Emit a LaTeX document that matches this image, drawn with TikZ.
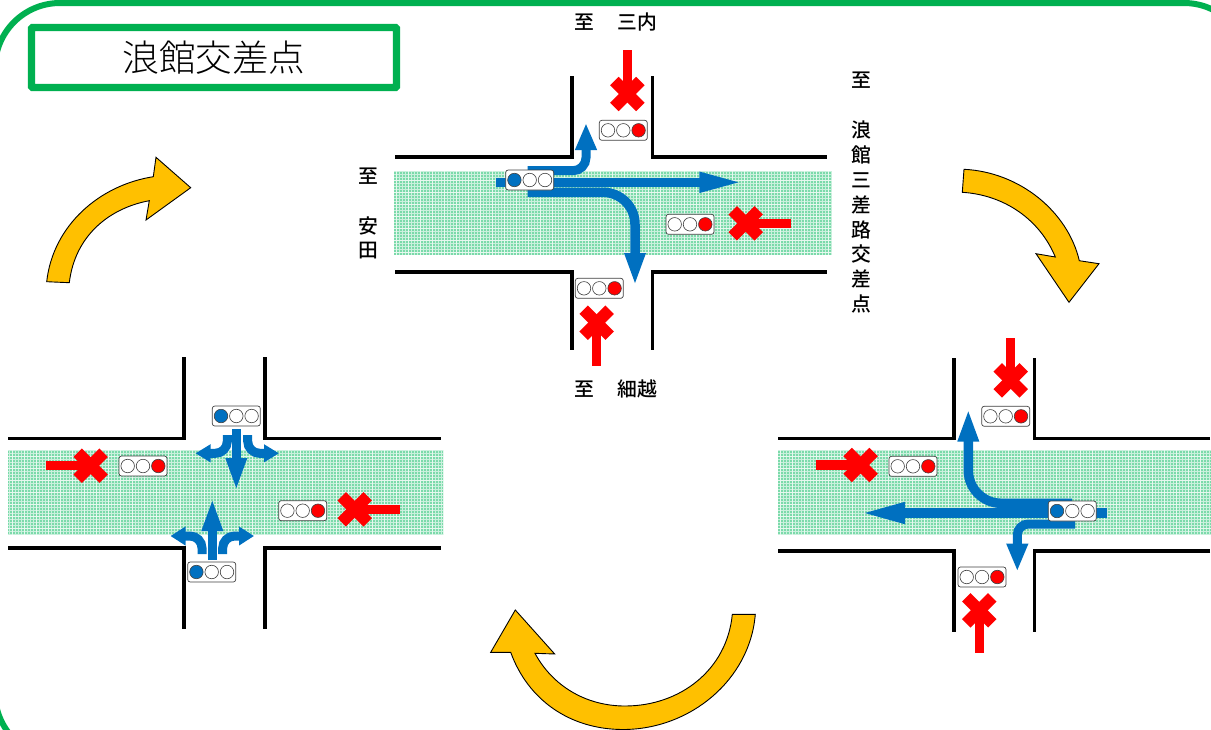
\documentclass[tikz,border=0pt]{standalone}
\usepackage{fontspec}
\setmainfont[UprightFont=* Medium]{Noto Sans CJK JP}
\newfontfamily\titlefont[UprightFont=* Light]{Noto Sans CJK JP}
\usetikzlibrary{arrows.meta,positioning}
\definecolor{framegreen}{HTML}{00B050}
\definecolor{bandgreen}{HTML}{7BDAAA}
\definecolor{signalblue}{HTML}{0070C0}
\definecolor{turnyellow}{HTML}{FFC000}
\tikzset{
    roadline/.style={
           draw=black,
           line width=3.6pt,
           miter limit=4,
           },
    signal/.style={
           rectangle,
           rounded corners=2.5pt,
           draw=black!75, line width=.7pt,
           fill=white,
           minimum width=48pt,
           minimum height=20pt,
           inner sep=0pt,
           },
    lamp/.style={
           circle,
           draw=black!75, line width=.6pt,
           minimum size=13.5pt,
           inner sep=0pt,
           node distance=1.2pt,
           },
    go/.style={
           draw=signalblue,
           line width=9.5pt,
           },
    stopline/.style={
           draw=red,
           line width=9.5pt,
           },
    stopcross/.style={
           draw=red,
           line width=12pt,
           },
    turnarrow/.style={
           draw=black, line width=.9pt,
           fill=turnyellow,
           line join=miter,
           },
    lbl/.style={
           font=\fontsize{19.8}{20}\selectfont,
           inner sep=0pt,
           },
}
% one road crossing: left, arm x, arm x, right, top y, bottom y, arm up to, arm down to
\newcommand{\crossroad}[8]{
    \draw[roadline] (#1,#5) -- (#2,#5) -- (#2,#7);
    \draw[roadline] (#4,#5) -- (#3,#5) -- (#3,#7);
    \draw[roadline] (#1,#6) -- (#2,#6) -- (#2,#8);
    \draw[roadline] (#4,#6) -- (#3,#6) -- (#3,#8);
}
% green hatched band along the road
\newcommand{\roadband}[4]{
    \fill[bandgreen] (#1,#2) rectangle (#3,#4);
    \begin{scope}
    \clip (#1,#2) rectangle (#3,#4);
    \draw[white, opacity=.6, line width=1pt, step=3pt] (#1,#2) grid (#3,#4);
    \draw[white, opacity=.55, line width=1pt, step=12pt] (#1,#2) grid (#3,#4);
    \end{scope}
}
% signal box with its three lamps
\newcommand{\signalbox}[6]{
    \node[signal] (#1) at (#2,#3) {};
    \node[lamp, fill=#5] (#1b) at (#1.center) {};
    \node[lamp, fill=#4, left=of #1b] (#1a) {};
    \node[lamp, fill=#6, right=of #1b] (#1c) {};
}
% red cross with the stopped lane running into it
\newcommand{\stopmark}[4]{
    \draw[stopline] (#3,#4) -- (#1,#2);
    \draw[stopcross] (#1,#2) ++(-13,-13) -- ++(26,26);
    \draw[stopcross] (#1,#2) ++(-13,13) -- ++(26,-26);
}
\begin{document}
\begin{tikzpicture}[x=1pt,y=-1pt]
    \useasboundingbox (0,0) rectangle (1211,729);

    % outer frame and title
    \begin{scope}
    \clip (0,0) rectangle (1211,729);
    \draw[framegreen, line width=6pt, rounded corners=65pt] (-5,3) rectangle (1249,758);
    \end{scope}
    \node[draw=framegreen, line width=7.3pt, rounded corners=1pt, fill=white,
    minimum width=365pt, minimum height=60pt, inner sep=0pt,
    font=\titlefont\fontsize{36.6}{37}\selectfont] (title) at (214,57.5) {浪館交差点};

    % roads
    \roadband{394}{171}{832}{254.5}
    \crossroad{395}{571.7}{652.3}{826.7}{156.7}{271.7}{76}{350}
    \roadband{8}{450}{444}{535}
    \crossroad{8}{183.7}{264.7}{440.7}{438.3}{547.7}{357}{629}
    \roadband{778}{450}{1211}{534.7}
    \crossroad{778}{953.7}{1034.3}{1210}{438.3}{551}{358}{631.7}

    % top crossing: west lane moves
    \draw[go, -{Triangle[length=46pt,width=18pt]}] (496,182.3) -- (745.3,182.3);
    \draw[go, line width=9pt, rounded corners=13pt, -{Triangle[length=27pt,width=20pt]}]
        (527.7,170.7) -- (586,170.7) -- (586,123);
    \draw[go, rounded corners=32pt, -{Triangle[length=33pt,width=19pt]}]
        (527.7,192.3) -- (635,192.3) -- (635,286);
    \stopmark{627.3}{94}{627.3}{50}
    \stopmark{745.7}{223.3}{791}{223.3}
    \stopmark{596.7}{322.7}{596.7}{365.7}
    \signalbox{na}{623.3}{130.3}{white}{white}{red}
    \signalbox{wa}{529.7}{180}{signalblue}{white}{white}
    \signalbox{ea}{690}{224.3}{white}{white}{red}
    \signalbox{sa}{599.3}{288.3}{white}{white}{red}

    % left crossing: north and south lanes move
    \draw[go, -{Triangle[length=33pt,width=19pt]}] (236.3,429.3) -- (236.3,491);
    \draw[go, line width=9pt, rounded corners=12pt, -{Triangle[length=15pt,width=17pt]}]
        (227.3,435) -- (227.3,453.3) -- (195.5,453.3);
    \draw[go, line width=9pt, rounded corners=12pt, -{Triangle[length=15pt,width=17pt]}]
        (247.7,435) -- (247.7,453.3) -- (279,453.3);
    \draw[go, -{Triangle[length=33pt,width=19pt]}] (212.3,560) -- (212.3,498);
    \draw[go, line width=9pt, rounded corners=12pt, -{Triangle[length=15pt,width=18pt]}]
        (202,554) -- (202,536) -- (170.5,536);
    \draw[go, line width=9pt, rounded corners=12pt, -{Triangle[length=15pt,width=18pt]}]
        (222.7,554) -- (222.7,536) -- (254,536);
    \stopmark{90.7}{465.7}{45.7}{465.7}
    \stopmark{354.7}{509.3}{400}{509.3}
    \signalbox{nb}{236.3}{416}{signalblue}{white}{white}
    \signalbox{wb}{143}{466}{white}{white}{red}
    \signalbox{eb}{302.7}{510.7}{white}{white}{red}
    \signalbox{sb}{211.7}{572}{signalblue}{white}{white}

    % right crossing: east lane moves
    \draw[go, -{Triangle[length=46pt,width=19pt]}] (1107.3,513) -- (859,513);
    \draw[go, rounded corners=33pt, -{Triangle[length=33pt,width=19pt]}]
        (1072,503.3) -- (968.3,503.3) -- (968.3,408.5);
    \draw[go, line width=9pt, rounded corners=11pt, -{Triangle[length=28pt,width=20pt]}]
        (1075,524) -- (1017.3,524) -- (1017.3,571.5);
    \stopmark{1010.7}{380.3}{1010.7}{338}
    \stopmark{860.7}{465}{815.7}{465}
    \stopmark{979.3}{610.3}{979.3}{652.7}
    \signalbox{nc}{1005.7}{416.3}{white}{white}{red}
    \signalbox{wc}{913}{466.3}{white}{white}{red}
    \signalbox{ec}{1072.3}{511}{signalblue}{white}{white}
    \signalbox{sc}{982}{577}{white}{white}{red}

    % phase arrows
    \draw[turnarrow] (46.7,281.7) .. controls (53,225) and (100,185) .. (153.3,176.7)
        -- (156,157.3) -- (190.7,187.7) -- (146,220) -- (149.3,200.7)
        .. controls (110,208) and (75,235) .. (69.3,282.7) -- cycle;
    \draw[turnarrow] (964,169.3) .. controls (1020,172) and (1068,212) .. (1079.3,260.7)
        -- (1099,263.7) -- (1069,302.3) -- (1036,253.7) -- (1055.3,257)
        .. controls (1040,220) and (1005,195) .. (962.3,192.3) -- cycle;
    \draw[turnarrow] (755.3,614.3) .. controls (750,680) and (690,729.5) .. (623,729.5)
        .. controls (570,729.5) and (528,700) .. (510.7,652.3)
        -- (490.7,652.3) -- (515.3,610) -- (554.7,654) -- (535,653.3)
        .. controls (552,685) and (585,706) .. (625,706)
        .. controls (680,706) and (727,670) .. (732.3,614.3) -- cycle;

    % road names
    \node[lbl] (tonorth) at (616,22) {至\hspace{1.2em}三内};
    \node[lbl] (tosouth) at (616,389) {至\hspace{1.2em}細越};
    \node[lbl] (towest) at (368.5,176) {至};
    \node[lbl] (wname1) at (368.5,226) {安};
    \node[lbl] (wname2) at (368.5,251) {田};
    \node[lbl] (toeast) at (861.7,80) {至};
    \foreach \ch [count=\i] in {浪,館,三,差,路,交,差,点}
        \node[lbl] (ename\i) at (861.7,105.5+24.8*\i) {\ch};
\end{tikzpicture}
\end{document}
